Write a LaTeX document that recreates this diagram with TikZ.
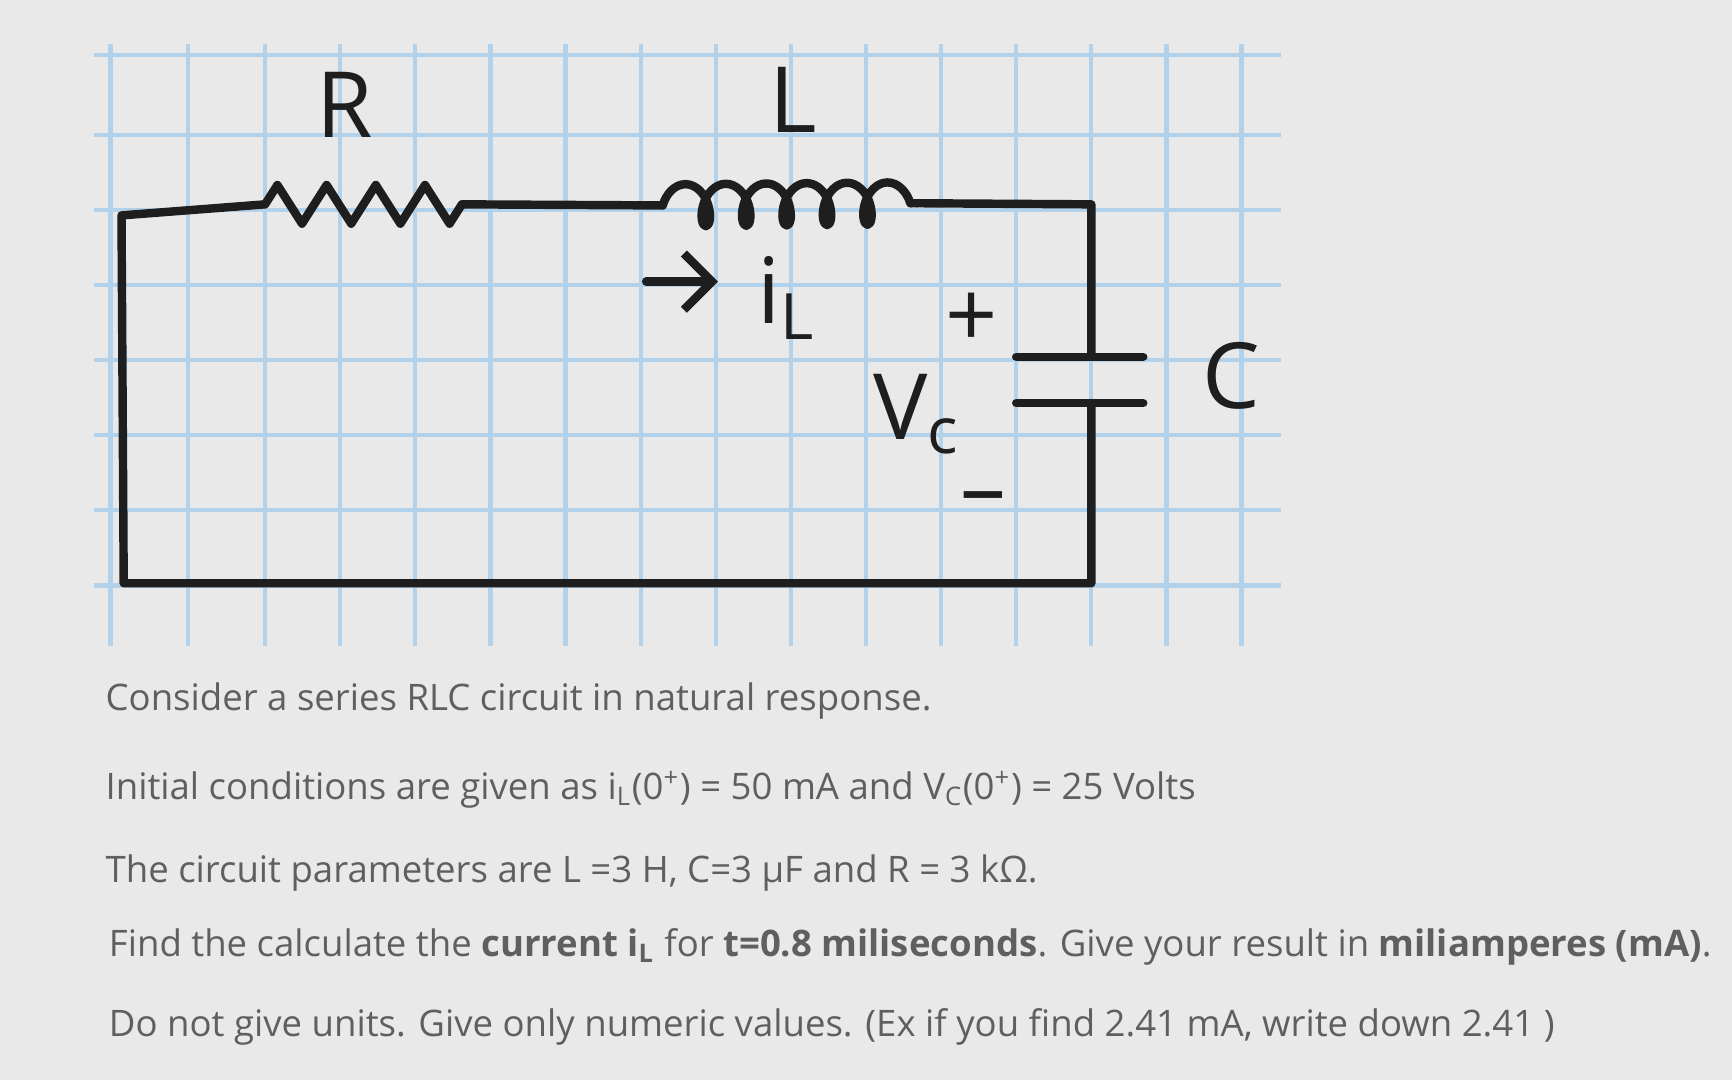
\documentclass[tikz,border=0pt]{standalone}
\usepackage{fontspec}
\setmainfont{Open Sans}
\usetikzlibrary{decorations.pathmorphing,arrows.meta}
\definecolor{paper}{RGB}{232,233,232}
\definecolor{gridblue}{RGB}{178,210,235}
\definecolor{ink}{RGB}{30,30,30}
\definecolor{txt}{RGB}{95,95,95}
\tikzset{
  wire/.style={ink,line width=2.4pt,line cap=round,line join=round},
  hand/.style={ink,font=\fontsize{26}{26}\selectfont},
  para/.style={anchor=west,txt,font=\fontsize{10.4}{11}\selectfont,inner sep=0pt}
}
\begin{document}
\begin{tikzpicture}[x=0.011046cm,y=-0.011046cm]
        \fill[paper] (0,0) rectangle (1568,978);
        \useasboundingbox (0,0) rectangle (1568,978);
        % grid paper
        \foreach \gx in {100,170,240,308,376,444,512,580,648,716,784,852,920,988,1056,1124}
            \draw[gridblue,line width=1.2pt] (\gx,40) -- (\gx,585);
        \foreach \gy in {50,122,190,258,326,394,462,530}
            \draw[gridblue,line width=1.2pt] (85,\gy) -- (1160,\gy);
        % circuit corners
        \coordinate (tl) at (110,195);
        \coordinate (ra) at (240,185);
        \coordinate (rb) at (420,185);
        \coordinate (la) at (600,186);
        \coordinate (lb) at (830,184);
        \coordinate (tr) at (988,185);
        \coordinate (cp) at (988,323);
        \coordinate (cm) at (988,365);
        \coordinate (br) at (988,528);
        \coordinate (bl) at (112,528);
        \draw[wire] (ra) -- (tl) -- (bl) -- (br) -- (cm)
            (cp) -- (tr) -- (lb)
            (rb) -- (la);
        \draw[wire,decoration={zigzag,segment length=14pt,amplitude=5.5pt},decorate] (ra) -- (rb);
        \draw[wire,decoration={coil,segment length=11.5pt,amplitude=6pt,aspect=0.6},decorate] (la) -- (lb);
        % capacitor plates
        \draw[wire] (920,323) -- (1035,323) (920,365) -- (1035,365);
        % labels
        \node[hand] (labR) at (312,95) {R};
        \node[hand] (labL) at (718,90) {L};
        \coordinate (ia) at (585,255);
        \coordinate (ib) at (650,255);
        \draw[wire,-{Straight Barb[length=8pt]}] (ia) -- (ib);
        \node[hand] (labi) at (712,270) {i\textsubscript{L}};
        \node[hand] (labp) at (880,290) {+};
        \node[hand] (labV) at (830,375) {V\textsubscript{c}};
        \node[hand] (labm) at (890,458) {--};
        \node[hand] (labC) at (1115,340) {C};
        % question text
        \node[para] (t1) at (95,635) {Consider a series RLC circuit in natural response.};
        \node[para] (t2) at (95,715) {Initial conditions are given as i\textsubscript{L}(0\textsuperscript{+}) = 50 mA and V\textsubscript{C}(0\textsuperscript{+}) = 25 Volts};
        \node[para] (t3) at (95,790) {The circuit parameters are L =3 H, C=3 μF and R = 3 kΩ.};
        \node[para] (t4) at (98,857) {Find the calculate the \textbf{current i\textsubscript{L}} for \textbf{t=0.8 miliseconds}. Give your result in \textbf{miliamperes (mA)}.};
        \node[para] (t5) at (98,930) {Do not give units. Give only numeric values. (Ex if you find 2.41 mA, write down 2.41 )};
    \end{tikzpicture}
\end{document}
